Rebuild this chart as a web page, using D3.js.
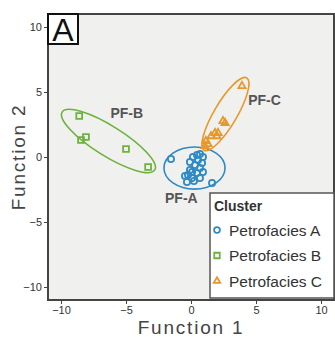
<!DOCTYPE html>
<html>
<head>
<meta charset="utf-8">
<script src="https://cdn.jsdelivr.net/npm/d3@7"></script>
<style>
  body { margin: 0; background: #fff; }
  svg { display: block; font-family: "Liberation Sans", Arial, sans-serif; }
</style>
</head>
<body>
<svg id="chart" width="335" height="337"></svg>
<script>
// discriminant scores
const pfA = [[-1.54,-0.15],[-0.08,-0.38],[0.15,0],[0.46,0.15],[0.69,0.23],[0.92,0],
  [0.54,-0.23],[0.85,-0.46],[0.31,-0.62],[0.69,-0.85],[0.92,-1.15],[0.46,-1.23],
  [0.08,-1.15],[-0.23,-1.38],[-0.46,-1.46],[0.08,-1.62],[-0.31,-1.92],[1.62,-2.0],
  [0.69,-1.62],[-0.08,-1.0],[0.23,-1.85]];
const pfB = [[-8.6,3.15],[-8.46,1.31],[-8.08,1.54],[-5.0,0.62],[-3.3,-0.77]];
const pfC = [[3.92,5.46],[2.46,2.77],[2.62,2.62],[1.85,1.85],[2.08,1.85],[2.0,1.6],
  [1.54,1.6],[1.15,1.23],[1.31,1.0],[1.08,0.85]];

const clusterNames = ['Petrofacies A', 'Petrofacies B', 'Petrofacies C'];
const clusterColors = ['#2f8ac4', '#6cb33e', '#e8982a'];
// [cx, cy, semi-major, semi-minor, angle deg]
const ellipses = [[0.27,-0.85,2.35,1.62,0],[-6.35,1.23,4.2,1.15,-32],[2.65,3.3,3.23,0.88,59.5]];
const clusterLabels = [['PF-A',-2.0,-3.55],['PF-B',-6.2,3.0],['PF-C',4.4,4.0]];
const ticks = [-10, -5, 0, 5, 10];

const svg = d3.select('#chart');
const mLeft = 48, mRight = 334, mTop = 14, mBottom = 300;

const x = d3.scaleLinear().domain([-11, 11]).range([mLeft, mRight]);
const y = d3.scaleLinear().domain([-11, 11]).range([mBottom, mTop]);

svg.append('rect').attr('x', mLeft).attr('y', mTop)
    .attr('width', mRight - mLeft).attr('height', mBottom - mTop)
    .attr('fill', '#f0f0ee');

// ellipses
ellipses.forEach((e, i) => {
    svg.append('ellipse')
        .attr('cx', x(e[0])).attr('cy', y(e[1]))
        .attr('rx', x(e[2]) - x(0)).attr('ry', x(e[3]) - x(0))
        .attr('transform', 'rotate(' + (-e[4]) + ',' + x(e[0]) + ',' + y(e[1]) + ')')
        .attr('fill', 'none')
        .attr('stroke', clusterColors[i])
        .attr('stroke-width', 1.6);
});

const symbols = [d3.symbolCircle, d3.symbolSquare, d3.symbolTriangle];
const sizes = [30, 34, 22];
[pfA, pfB, pfC].forEach((pts, i) => {
    svg.append('g').selectAll('path').data(pts).enter().append('path')
        .attr('d', d3.symbol().type(symbols[i]).size(sizes[i]))
        .attr('transform', (d) => 'translate(' + x(d[0]) + ',' + y(d[1]) + ')')
        .attr('fill', 'none')
        .attr('stroke', clusterColors[i])
        .attr('stroke-width', 1.8);
});

svg.selectAll('.clab').data(clusterLabels).enter().append('text')
    .attr('class', 'clab')
    .attr('x', (d) => x(d[1])).attr('y', (d) => y(d[2]))
    .attr('font-size', 14).attr('font-weight', 'bold')
    .attr('fill', '#555')
    .text((d) => d[0]);

// axes
const xAxis = svg.append('g').attr('transform', 'translate(0,' + mBottom + ')')
    .call(d3.axisBottom(x).tickValues(ticks).tickSize(4).tickPadding(2));
const yAxis = svg.append('g').attr('transform', 'translate(' + mLeft + ',0)')
    .call(d3.axisLeft(y).tickValues(ticks).tickSize(4).tickPadding(2));
[xAxis, yAxis].forEach((a) => {
    a.select('.domain').remove();
    a.selectAll('line').attr('stroke', '#444');
    a.selectAll('text').attr('font-size', 11).attr('fill', '#333')
        .attr('font-family', '"Liberation Sans", Arial, sans-serif');
});

// frame
svg.append('rect').attr('x', mLeft).attr('y', mTop)
    .attr('width', mRight - mLeft).attr('height', mBottom - mTop)
    .attr('fill', 'none').attr('stroke', '#444').attr('stroke-width', 2);

// panel letter
svg.append('rect').attr('x', mLeft).attr('y', mTop).attr('width', 30).attr('height', 30)
    .attr('fill', '#fff').attr('stroke', '#111').attr('stroke-width', 2);
svg.append('text').attr('x', mLeft + 15).attr('y', mTop + 27)
    .attr('text-anchor', 'middle').attr('font-size', 32).attr('fill', '#111').text('A');

// axis titles
svg.append('text').attr('x', x(0)).attr('y', 334)
    .attr('text-anchor', 'middle').attr('font-size', 19)
    .attr('letter-spacing', 1.8).attr('fill', '#444').text('Function 1');
svg.append('text').attr('transform', 'translate(25,' + y(0) + ') rotate(-90)')
    .attr('text-anchor', 'middle').attr('font-size', 19)
    .attr('letter-spacing', 1.8).attr('fill', '#444').text('Function 2');

// legend
const lg = svg.append('g').attr('transform', 'translate(210,193)');
lg.append('rect').attr('width', mRight - 210).attr('height', mBottom - 193 - 2)
    .attr('fill', '#fff').attr('stroke', '#555').attr('stroke-width', 1.5);
lg.append('text').attr('x', 4).attr('y', 18).attr('font-size', 14)
    .attr('font-weight', 'bold').attr('fill', '#333').text('Cluster');
const items = lg.selectAll('.item').data(clusterNames).enter().append('g')
    .attr('transform', (d, i) => 'translate(0,' + (37 + i * 25.5) + ')');
items.append('path')
    .attr('d', (d, i) => d3.symbol().type(symbols[i]).size(sizes[i] - 4)())
    .attr('transform', 'translate(7,0)')
    .attr('fill', 'none')
    .attr('stroke', (d, i) => clusterColors[i])
    .attr('stroke-width', 1.8);
items.append('text').attr('x', 19).attr('y', 5.5).attr('font-size', 15.5)
    .attr('fill', '#333').text((d) => d);
</script>
</body>
</html>
